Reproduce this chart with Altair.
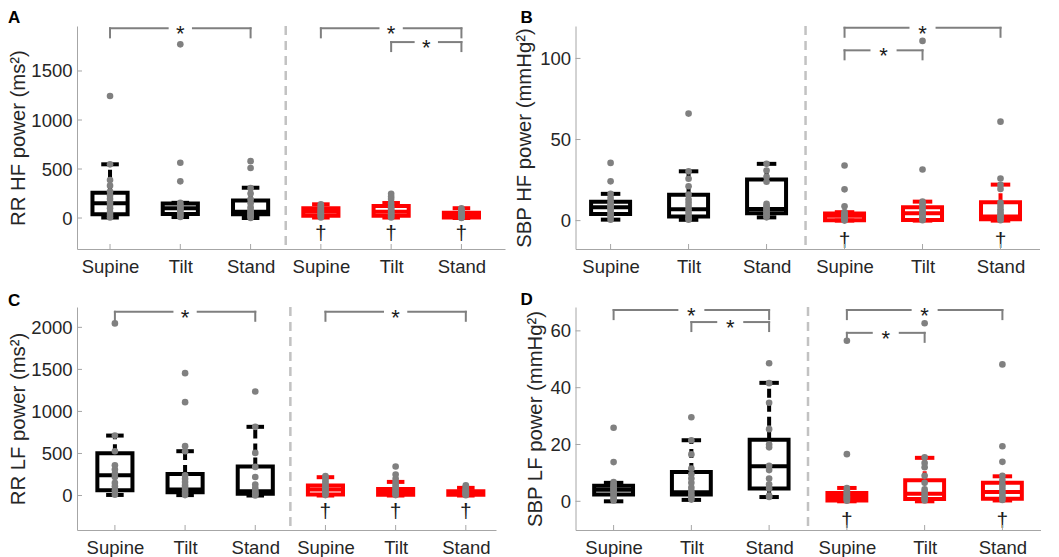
import json
import altair as alt
import pandas as pd

FONT = "Liberation Sans"
conditions = ["Supine", "Tilt", "Stand"]
groups = ["Group 1", "Group 2"]
group_colors = ["#000000", "#ff0000"]

# ---------------- Panel A: RR HF power (ms^2) ----------------
a_q1 = [38, 40, 38, 22, 22, 5]
a_med = [150, 100, 65, 65, 64, 30]
a_q3 = [258, 148, 180, 99, 122, 54]
a_lo = [5, 10, 0, 5, 5, 0]
a_hi = [548, 155, 309, 140, 153, 100]
a_pts = [
    [1245, 548, 388, 330, 270, 230, 195, 160, 130, 100, 60, 30, 5],
    [1772, 564, 374, 155, 135, 120, 105, 95, 80, 60, 40, 25, 10],
    [580, 510, 305, 250, 190, 150, 110, 80, 60, 45, 30, 15, 0],
    [140, 125, 110, 95, 85, 75, 65, 55, 45, 35, 25, 15, 5],
    [248, 220, 195, 150, 120, 100, 85, 70, 55, 40, 30, 15, 5],
    [100, 85, 70, 60, 50, 40, 35, 28, 20, 15, 10, 5, 0],
]
a_sig = [(1, 3, 1935), (4, 6, 1935), (5, 6, 1795)]
a_dag = [4, 5, 6]

# ---------------- Panel B: SBP HF power (mmHg^2) ----------------
b_q1 = [4.1, 2.5, 4.5, 0.3, 0.4, 0.8]
b_med = [8.2, 7.0, 7.2, 3.0, 4.5, 2.5]
b_q3 = [11.7, 15.9, 25.3, 4.4, 8.2, 11.3]
b_lo = [0.6, 0.5, 2.0, 0.0, 0.0, 0.0]
b_hi = [16.5, 30.4, 35.0, 5.2, 11.7, 22.2]
b_pts = [
    [35.6, 24.2, 16.5, 14, 12, 10, 9, 8, 7, 5.5, 4, 2.5, 0.6],
    [66, 30.4, 25.8, 21.2, 16, 13, 11, 9, 7, 5, 3, 1.5, 0.5],
    [35, 30.9, 27, 24, 10.3, 9, 8, 7, 6, 5, 4, 3, 2],
    [34, 19.3, 8.8, 5.2, 4.4, 3.8, 3.2, 2.6, 2, 1.5, 1, 0.5, 0],
    [110.8, 31.5, 11.7, 10.5, 9, 7.5, 6, 5, 4, 3, 2, 1, 0.3],
    [61, 26, 22, 19.5, 11, 9, 7, 5.5, 4, 3, 2, 1, 0.2],
]
b_sig = [(4, 6, 118.9), (4, 5, 105)]
b_dag = [4, 6]

# ---------------- Panel C: RR LF power (ms^2) ----------------
c_q1 = [63, 39, 20, 12, 10, 8]
c_med = [241, 71, 51, 71, 51, 35]
c_q3 = [503, 257, 345, 119, 79, 51]
c_lo = [7, 5, 0, 0, 0, 0]
c_hi = [713, 527, 817, 218, 162, 91]
c_pts = [
    [2047, 713, 527, 360, 310, 260, 220, 150, 110, 60, 10],
    [1455, 1110, 587, 527, 240, 200, 160, 120, 90, 60, 30, 5],
    [1237, 817, 507, 340, 220, 130, 90, 60, 40, 25, 10, 0],
    [230, 200, 170, 140, 115, 95, 80, 65, 50, 35, 20, 5],
    [345, 250, 200, 162, 130, 100, 80, 60, 45, 30, 15, 5],
    [122, 100, 85, 70, 58, 48, 40, 32, 25, 18, 10, 3],
]
c_sig = [(1, 3, 2185), (4, 6, 2185)]
c_dag = [4, 5, 6]

# ---------------- Panel D: SBP LF power (mmHg^2) ----------------
d_q1 = [2.4, 2.4, 4.5, 0.3, 0.8, 0.9]
d_med = [4.1, 3.2, 12.3, 1.5, 2.7, 3.3]
d_q3 = [5.5, 10.3, 21.7, 2.9, 7.4, 6.5]
d_lo = [0.0, 0.5, 1.5, 0.0, 0.0, 0.3]
d_hi = [6.5, 21.5, 41.7, 4.7, 15.3, 8.8]
d_pts = [
    [25.9, 13.8, 6.8, 6, 5.3, 4.8, 4.3, 3.8, 3.2, 2.6, 1.8, 1, 0.3],
    [29.6, 21.5, 16.5, 11.5, 9.5, 8, 6.5, 4.8, 3.5, 2.5, 1.5, 0.6],
    [48.6, 41.6, 34.7, 25.4, 20, 19, 12.5, 11, 8, 6, 4.5, 2, 1.5],
    [56.5, 16.6, 4.7, 3.8, 3.2, 2.7, 2.2, 1.8, 1.4, 1, 0.6, 0.2],
    [62.7, 15.5, 13.5, 12, 9, 6.5, 4.2, 3.2, 2.2, 1.4, 0.8, 0.3],
    [48.2, 19.4, 13.9, 9, 7.5, 6, 5, 4, 3, 2, 1.2, 0.5],
]
d_sig = [(1, 3, 67.3), (2, 3, 63.1), (4, 6, 67.3), (4, 5, 59.3)]
d_dag = [4, 6]

BOX_W = 0.5
CAP_W = 0.25
GAP = 0.18
LW = 4
AXIS_GRAY = "#a6a6a6"
TEXT = "#262626"

label_expr = json.dumps(conditions) + "[(datum.value - 1) % " + str(len(conditions)) + "]"


def panel(letter, ytitle, q1, med, q3, lo, hi, pts, sig, dag, xdom, ydom, yticks,
          W, H, title_pad, dag_dy, letter_dx):
    n = len(q1)
    pos = list(range(1, n + 1))
    grp = [groups[i // len(conditions)] for i in range(n)]
    box = pd.DataFrame({"pos": pos, "q1": q1, "med": med, "q3": q3,
                        "lo": lo, "hi": hi, "grp": grp})
    box["xl"] = box["pos"] - BOX_W / 2
    box["xr"] = box["pos"] + BOX_W / 2
    box["cl"] = box["pos"] - CAP_W / 2
    box["cr"] = box["pos"] + CAP_W / 2

    prow = []
    for i, vals in enumerate(pts):
        for v in vals:
            prow.append({"pos": i + 1, "v": v})
    pdf = pd.DataFrame(prow)

    drop = 9 / H * (ydom[1] - ydom[0])
    seg = []
    stars = []
    for (a, b, lev) in sig:
        mid = (a + b) / 2
        seg.append({"x": a, "x2": mid - GAP, "y": lev, "y2": lev})
        seg.append({"x": mid + GAP, "x2": b, "y": lev, "y2": lev})
        seg.append({"x": a, "x2": a, "y": lev, "y2": lev - drop})
        seg.append({"x": b, "x2": b, "y": lev, "y2": lev - drop})
        stars.append({"x": mid, "y": lev})
    segdf = pd.DataFrame(seg)
    stardf = pd.DataFrame(stars)
    dagdf = pd.DataFrame({"pos": dag, "y": [0] * len(dag)})

    xs = alt.Scale(domain=xdom, nice=False, zero=False)
    ys = alt.Scale(domain=ydom, nice=False, zero=False)
    col = alt.Color("grp:N", scale=alt.Scale(domain=groups, range=group_colors), legend=None)

    xaxis = alt.Axis(values=pos, labelExpr=label_expr, title=None, labelPadding=8,
                     labelFlush=False, labelOverlap=False, ticks=False, tickSize=0,
                     domainColor=AXIS_GRAY, labelFontSize=18.5, labelColor=TEXT, labelFont=FONT,
                     grid=False)
    yaxis = alt.Axis(values=yticks, format="d", title=ytitle, labelPadding=5,
                     titlePadding=title_pad,
                     ticks=False, tickSize=0, domainColor=AXIS_GRAY, labelFontSize=18.5,
                     labelColor=TEXT, labelFont=FONT, titleFont=FONT, titleFontSize=20.3,
                     titleColor=TEXT, titleFontWeight="normal", labelFlush=False,
                     labelOverlap=False, grid=False)

    def X(f):
        return alt.X(f, scale=xs, axis=xaxis)

    def Y(f):
        return alt.Y(f, scale=ys, axis=yaxis)

    sep = alt.Chart(pd.DataFrame({"x": [len(conditions) + 0.5]})).mark_rule(
        color="#c2c2c2", strokeWidth=2.5, strokeDash=[9, 6]
    ).encode(x=X("x:Q"))

    boxes = alt.Chart(box).mark_rect(fill="white", strokeWidth=LW).encode(
        x=X("xl:Q"), x2="xr:Q", y=Y("q1:Q"), y2="q3:Q",
        stroke=alt.Stroke("grp:N", scale=alt.Scale(domain=groups, range=group_colors), legend=None),
    )
    meds = alt.Chart(box).mark_rule(strokeWidth=LW).encode(
        x=X("xl:Q"), x2="xr:Q", y=Y("med:Q"), color=col)
    wup = alt.Chart(box).mark_rule(strokeWidth=LW, strokeDash=[9, 5]).encode(
        x=X("pos:Q"), y=Y("q3:Q"), y2="hi:Q", color=col)
    wdn = alt.Chart(box).mark_rule(strokeWidth=LW, strokeDash=[9, 5]).encode(
        x=X("pos:Q"), y=Y("lo:Q"), y2="q1:Q", color=col)
    capu = alt.Chart(box).mark_rule(strokeWidth=LW).encode(
        x=X("cl:Q"), x2="cr:Q", y=Y("hi:Q"), color=col)
    capd = alt.Chart(box).mark_rule(strokeWidth=LW).encode(
        x=X("cl:Q"), x2="cr:Q", y=Y("lo:Q"), color=col)
    points = alt.Chart(pdf).mark_circle(size=44, color="#808080", opacity=1).encode(
        x=X("pos:Q"), y=Y("v:Q"))
    brackets = alt.Chart(segdf).mark_rule(color="#7f7f7f", strokeWidth=2, strokeCap="square").encode(
        x=X("x:Q"), x2="x2:Q", y=Y("y:Q"), y2="y2:Q")
    starm = alt.Chart(stardf).mark_text(text="*", font=FONT, fontSize=22, color="#1a1a1a",
                                         baseline="alphabetic", dy=13).encode(
        x=X("x:Q"), y=Y("y:Q"))
    dagm = alt.Chart(dagdf).mark_text(text="\u2020", font=FONT, fontSize=21, color="#1a1a1a",
                                      baseline="alphabetic", dy=dag_dy).encode(
        x=X("pos:Q"), y=Y("y:Q"))
    ytk = alt.Chart(pd.DataFrame({"v": yticks})).mark_rule(color=AXIS_GRAY, strokeWidth=1).encode(
        y=Y("v:Q"), x=alt.value(0), x2=alt.value(5))
    xtk = alt.Chart(pd.DataFrame({"p": pos})).mark_rule(color=AXIS_GRAY, strokeWidth=1).encode(
        x=X("p:Q"), y=alt.value(H), y2=alt.value(H - 5))

    return alt.layer(sep, boxes, meds, wup, wdn, capu, capd, points, brackets, starm, dagm,
                     ytk, xtk).properties(
        width=W, height=H,
        title=alt.TitleParams(letter, anchor="start", frame="group", dx=letter_dx,
                              fontSize=17, fontWeight="bold", font=FONT, color="#000000",
                              baseline="alphabetic", offset=-17),
    )


H = 223
pA = panel("A", "RR HF power (ms\u00b2)", a_q1, a_med, a_q3, a_lo, a_hi, a_pts, a_sig, a_dag,
           [0.53, 6.62], [-316, 1959], [0, 500, 1000, 1500], 428, H, 2, 22, -69)
pB = panel("B", "SBP HF power (mmHg\u00b2)", b_q1, b_med, b_q3, b_lo, b_hi, b_pts, b_sig, b_dag,
           [0.55, 6.5], [-17.5, 120], [0, 50, 100], 464, H, 5.6, 26, -55)
pC = panel("C", "RR LF power (ms\u00b2)", c_q1, c_med, c_q3, c_lo, c_hi, c_pts, c_sig, c_dag,
           [0.46, 6.43], [-410, 2242], [0, 500, 1000, 1500, 2000], 419, H, 2, 22, -69)
pD = panel("D", "SBP LF power (mmHg\u00b2)", d_q1, d_med, d_q3, d_lo, d_hi, d_pts, d_sig, d_dag,
           [0.51, 6.49], [-10.1, 68.4], [0, 20, 40, 60], 465, H, 4.4, 26, -55)

chart = alt.concat(pA, pB, pC, pD, columns=2, bounds="flush", align="each",
                   spacing={"row": 58, "column": 70.5}).properties(
    padding=0, background="white"
).configure_view(strokeWidth=0)

chart.save("out.html", embed_options={"renderer": "svg", "actions": False})
